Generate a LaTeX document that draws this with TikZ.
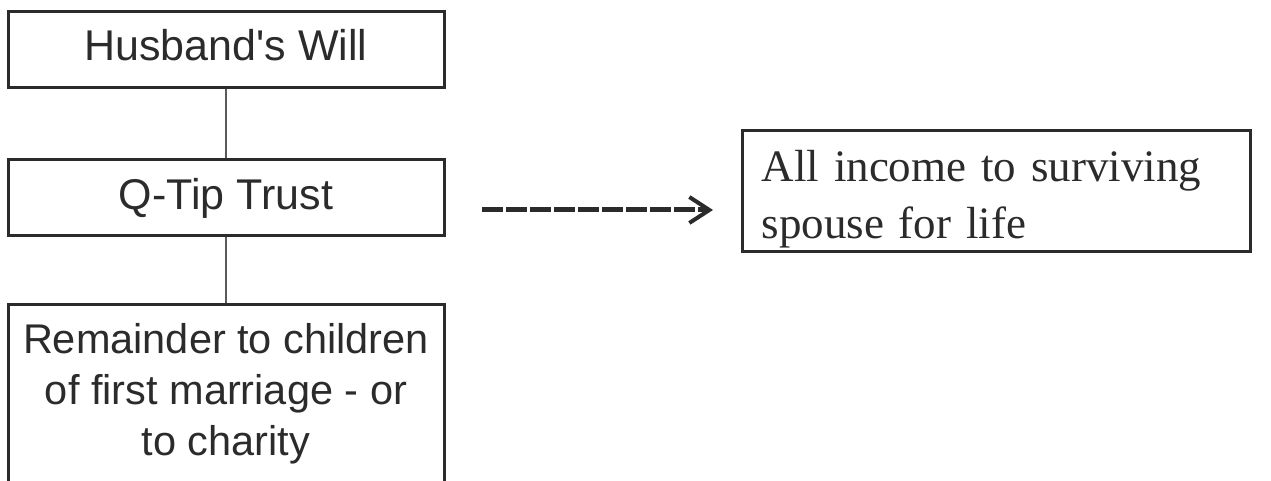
\documentclass[tikz,border=0pt]{standalone}
\usepackage{fontspec}
\setmainfont{Liberation Sans}
\newfontfamily\serifface{Liberation Serif}
\usetikzlibrary{positioning, arrows.meta}
\definecolor{inkline}{HTML}{2B2B2B}
\definecolor{linkgray}{HTML}{5A5A5A}
\newcommand{\boxfont}{\fontsize{43}{51}\selectfont}
\newcommand{\longfont}{\fontsize{41.5}{51}\selectfont}
\newcommand{\notefont}{\serifface\fontsize{45}{57}\selectfont}

\begin{document}
\begin{tikzpicture}[x=1pt, y=-1pt, node distance=69pt,
		box/.style={draw=inkline, line width=3pt, minimum width=436pt,
			inner xsep=0pt, inner ysep=0pt, text height=49.5pt, text depth=26.5pt,
			align=center, text=inkline, font=\boxfont},
		notebox/.style={draw=inkline, line width=3pt, inner xsep=19pt, inner ysep=0pt,
			text width=470pt, align=left, text height=51pt, text depth=70pt,
			text=inkline, font=\notefont},
		link/.style={draw=linkgray, line width=2pt},
		dasharrow/.style={draw=inkline, line width=5pt, dash pattern=on 21pt off 3pt,
			-{Straight Barb[length=20pt, width=26pt, line width=4pt]}}
	]
	\useasboundingbox (0,0) rectangle (1271,481);
	\clip (0,0) rectangle (1271,481);

	\node[box, anchor=north] (will) at (226,10) {Husband\textquotesingle s Will};
	\node[box, below=of will] (trust) {Q-Tip Trust};
	\node[box, below=66pt of trust, text height=150.5pt, text depth=60pt, font=\longfont]
		(remainder) {Remainder to children\\ of first marriage - or\\ to charity};

	\node[notebox, anchor=north west] (income) at (741,129)
		{All income to surviving\\ spouse for life};

	\draw[link] (will) -- (trust);
	\draw[link] (trust) -- (remainder);

	% dashed pointer towards the income box
	\coordinate (ptrstart) at (482,210);
	\coordinate (ptrend) at (713,210);
	\draw[dasharrow] (ptrstart) -- (ptrend);
\end{tikzpicture}
\end{document}
